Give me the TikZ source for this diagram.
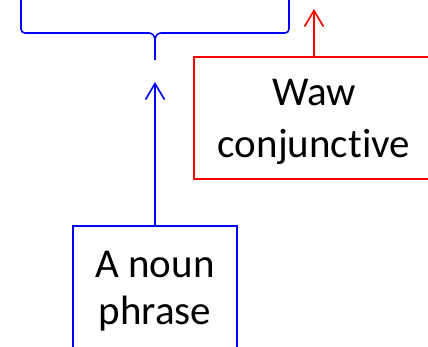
\documentclass[tikz,border=0pt]{standalone}
\usepackage{fontspec}
\setmainfont[Ligatures=NoCommon]{Carlito}
\usetikzlibrary{arrows.meta}

\begin{document}
\begin{tikzpicture}[
    x=1bp, y=-1bp,
    font=\fontsize{41bp}{47bp}\selectfont,
    box/.style={draw,line width=1.6bp,inner sep=0pt},
    boxtext/.style={align=center,inner sep=0pt},
    link/.style={line width=1.6bp,-{Straight Barb[length=16bp,width=19bp,line width=1.6bp]}}
]
\useasboundingbox (0,0) rectangle (428,347);

% brace over the phrase
\coordinate (bracetip) at (155,60);
\draw[blue,line width=1.6bp] (21,-2) -- (21,29) to[out=-90,in=180] (25,33)
    -- (149,33) to[out=0,in=90] (155,40) -- (bracetip);
\draw[blue,line width=1.6bp] (289,-2) -- (289,29) to[out=-90,in=0] (285,33)
    -- (161,33) to[out=180,in=90] (155,40);

% boxes
\node[box,blue,minimum width=164bp,minimum height=134bp] (np) at (155,293) {};
\node[boxtext] (nptext) at (155,291.5) {A noun\\phrase};
\node[box,red,minimum width=240bp,minimum height=122bp] (waw) at (314,118) {};
\node[boxtext] (wawtext) at (314,122) {Waw\\[5bp]conjunctive};

% arrows
\coordinate (npend) at (155,82);
\coordinate (wawend) at (314,9);
\draw[link,blue] (np) -- (npend);
\draw[link,red] (waw) -- (wawend);

\end{tikzpicture}
\end{document}
